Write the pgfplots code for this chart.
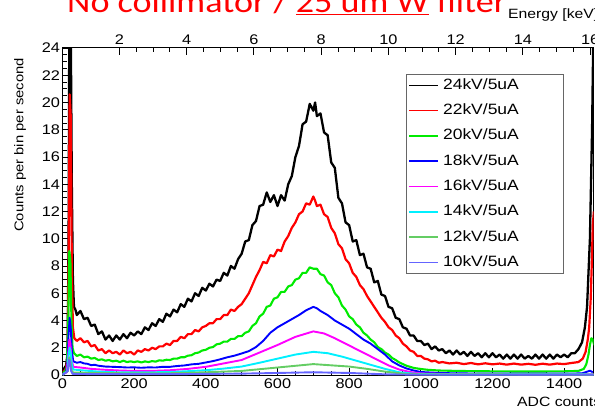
\documentclass[border=0pt]{standalone}
\usepackage{pgfplots}
\pgfplotsset{compat=1.18}
\usepackage{fontspec}
\setmainfont[FakeStretch=1.17]{Liberation Sans}
\newfontfamily\titlefont[FakeStretch=1.15]{Carlito}
\definecolor{cblack}{RGB}{0,0,0}
\definecolor{cred}{RGB}{255,0,0}
\definecolor{cgreen}{RGB}{0,235,0}
\definecolor{cblue}{RGB}{0,0,255}
\definecolor{cmag}{RGB}{255,0,255}
\definecolor{ccyan}{RGB}{0,240,255}
\definecolor{clgreen}{RGB}{100,205,100}
\definecolor{clblue}{RGB}{100,100,255}
\newcommand{\legtxt}[1]{\makebox[116bp][l]{#1}}
\begin{document}
\begin{tikzpicture}
\begin{axis}[
  at={(0,0)}, anchor=south west,
  width=531bp, height=327bp, scale only axis,
  xmin=0, xmax=1482, ymin=0, ymax=24,
  xtick={0,200,...,1400}, ytick={0,2,...,24},
  minor x tick num=3, minor y tick num=3,
  xtick pos=bottom, ytick pos=left,
  tick align=inside,
  major tick length=7bp, minor tick length=4bp,
  tick style={black, line width=0.8bp},
  axis line style={line width=1bp},
  ticklabel style={font=\fontsize{14}{16}\selectfont},
  yticklabel style={xshift=1bp},
  /pgf/number format/assume math mode=true,
  /pgf/number format/1000 sep={},
  legend style={at={(0.647,0.9205)}, anchor=north west, draw=black!60, line width=0.8bp,
    inner xsep=2bp, inner ysep=2bp, font=\fontsize{15}{17}\selectfont,
    nodes={inner sep=2bp, text height=11bp, text depth=3bp}, row sep=7.3bp, column sep=2bp},
  legend cell align=left,
  legend image code/.code={\draw[#1, line width=1.6bp] (0bp,0bp) -- (29bp,0bp);},
  every axis plot/.append style={line width=1.9bp, line join=round},
]
\addplot[cblack, line width=2.3bp] coordinates {
(0,0.3)(5,0.5)(10,0.7)(14,1.5)(17,10)(19,26)(23,26)(26,14)(29,7)(32,5.0)(36,4.8)
(40,4.4)(50,4.7)(60,4.1)(70,4.2)(80,3.6)(90,3.7)(100,3.0)(110,3.2)(120,2.6)(130,2.9)(140,2.5)(150,2.9)(160,2.6)(170,3.0)(180,2.7)(190,3.1)(200,2.9)(210,3.2)(220,3.0)(230,3.5)(240,3.3)(250,3.8)(260,3.6)(270,4.1)(280,3.9)(290,4.5)(300,4.3)(310,4.8)(320,4.6)(330,5.2)(340,5.0)(350,5.6)(360,5.4)(370,6.0)(380,5.8)(390,6.4)(400,6.2)(410,6.7)(420,6.5)(430,7.0)(440,6.9)(450,7.5)(460,7.3)(470,8.0)(480,7.8)(490,8.5)(500,8.9)(510,9.8)(520,9.9)(530,11.0)(540,11.3)(550,12.4)(560,12.5)(570,13.4)(580,12.7)(590,13.2)(600,12.4)(610,13.2)(620,12.8)(630,14.0)(640,14.6)(650,16.0)(660,16.8)(670,18.4)(680,18.6)(690,19.9)(700,19.4)(705,20.0)(710,19.0)(720,19.2)(730,17.8)(740,17.6)(750,15.6)(760,15.2)(770,13.0)(780,12.6)(790,11.2)(800,11.0)(810,9.8)(820,9.9)(830,8.8)(840,8.9)(850,7.9)(860,7.8)(870,6.8)(880,6.9)(890,5.9)(900,5.8)(910,5.0)(920,4.9)(930,4.2)(940,4.1)(950,3.5)(960,3.4)(970,2.9)(980,2.9)(990,2.5)(1000,2.5)(1010,2.2)(1020,2.3)(1030,1.9)(1040,2.1)(1050,1.8)(1060,1.9)(1070,1.6)(1080,1.8)(1090,1.5)(1100,1.8)(1110,1.5)(1120,1.7)(1130,1.4)(1140,1.7)(1150,1.4)(1160,1.6)(1170,1.3)(1180,1.6)(1190,1.3)(1200,1.6)(1210,1.3)(1220,1.5)(1230,1.2)(1240,1.5)(1250,1.2)(1260,1.5)(1270,1.2)(1280,1.5)(1290,1.2)(1300,1.4)(1310,1.2)(1320,1.5)(1330,1.2)(1340,1.5)(1350,1.2)(1360,1.5)(1370,1.2)(1380,1.5)(1390,1.3)(1400,1.5)(1410,1.3)(1420,1.6)(1430,1.6)(1440,1.9)(1450,2.4)(1458,3.5)(1464,5)(1468,7.5)(1472,10)(1475,14)(1478,18)(1481,24)(1484,30)
};
\addlegendentry{\legtxt{24kV/5uA}}
\addplot[cred, line width=2.2bp] coordinates {
(0,0.2)(5,0.3)(10,0.5)(14,1.2)(17,8)(20,20.6)(23,19)(26,8)(29,3.5)(33,2.7)(40,2.5)(50,2.7)(60,2.4)(70,2.5)(80,2.1)(90,2.2)(100,1.8)(110,1.9)(120,1.6)(130,1.8)(140,1.6)(150,1.7)(160,1.5)(170,1.8)(180,1.6)(190,1.7)(200,1.5)(210,1.8)(220,1.7)(230,1.9)(240,1.8)(250,2.0)(260,1.9)(270,2.1)(280,2.1)(290,2.3)(300,2.2)(310,2.5)(320,2.5)(330,2.8)(340,2.7)(350,3.0)(360,3.0)(370,3.3)(380,3.2)(390,3.5)(400,3.6)(410,3.8)(420,3.8)(430,4.1)(440,4.1)(450,4.4)(460,4.4)(470,4.8)(480,4.7)(490,5.0)(500,5.2)(510,5.6)(520,6.0)(530,6.6)(540,7.2)(550,7.7)(560,8.3)(570,8.2)(580,8.8)(590,8.7)(600,9.2)(610,9.1)(620,9.8)(630,10.2)(640,10.8)(650,11.2)(660,11.8)(670,12.0)(680,12.6)(690,12.5)(700,13.1)(705,12.8)(710,12.4)(720,12.5)(730,11.8)(740,11.6)(750,10.8)(760,10.4)(770,9.6)(780,9.3)(790,8.5)(800,8.2)(810,7.5)(820,7.2)(830,6.6)(840,6.3)(850,5.8)(860,5.4)(870,5.0)(880,4.6)(890,4.2)(900,3.9)(910,3.5)(920,3.3)(930,2.9)(940,2.7)(950,2.3)(960,2.1)(970,1.8)(980,1.7)(990,1.4)(1000,1.4)(1010,1.2)(1020,1.15)(1030,1.0)(1040,1.05)(1050,0.9)(1060,0.95)(1080,0.85)(1100,0.9)(1120,0.8)(1140,0.88)(1160,0.78)(1180,0.86)(1200,0.78)(1220,0.84)(1240,0.76)(1260,0.84)(1280,0.76)(1300,0.82)(1320,0.75)(1340,0.83)(1360,0.76)(1380,0.84)(1400,0.8)(1420,0.88)(1440,0.95)(1452,1.2)(1460,1.7)(1466,2.6)(1470,3.5)(1474,5.5)(1477,8)(1480,11)(1483,12)
};
\addlegendentry{\legtxt{22kV/5uA}}
\addplot[cgreen, line width=2.1bp] coordinates {
(0,0.1)(8,0.3)(12,0.6)(16,4)(19,9.1)(22,8.5)(25,4)(28,2)(32,1.6)(40,1.4)(50,1.5)(60,1.3)(70,1.35)(80,1.2)(90,1.25)(100,1.1)(110,1.15)(120,1.05)(130,1.1)(140,1.0)(150,1.05)(160,0.95)(170,1.05)(180,0.95)(190,1.0)(200,0.95)(210,1.0)(220,0.92)(230,1.0)(240,0.95)(250,1.02)(260,0.98)(270,1.08)(280,1.05)(290,1.12)(300,1.1)(310,1.2)(320,1.2)(330,1.3)(340,1.3)(350,1.42)(360,1.45)(370,1.6)(380,1.65)(390,1.8)(400,1.85)(410,2.0)(420,2.05)(430,2.25)(440,2.3)(450,2.45)(460,2.45)(470,2.65)(480,2.65)(490,2.85)(500,2.85)(510,3.1)(520,3.2)(530,3.6)(540,3.8)(550,4.3)(560,4.5)(570,5.0)(580,5.1)(590,5.6)(600,5.7)(610,6.1)(620,6.1)(630,6.5)(640,6.6)(650,7.0)(660,7.1)(670,7.5)(680,7.5)(690,7.9)(700,7.8)(710,7.8)(720,7.4)(730,7.3)(740,6.8)(750,6.6)(760,6.0)(770,5.7)(780,5.1)(790,4.8)(800,4.3)(810,4.1)(820,3.7)(830,3.5)(840,3.1)(850,2.9)(860,2.6)(870,2.4)(880,2.05)(890,1.9)(900,1.65)(910,1.5)(920,1.25)(930,1.1)(940,0.92)(950,0.8)(960,0.68)(970,0.6)(980,0.52)(990,0.48)(1000,0.44)(1020,0.38)(1050,0.33)(1100,0.3)(1150,0.28)(1200,0.27)(1250,0.26)(1300,0.26)(1350,0.26)(1400,0.27)(1440,0.3)(1455,0.45)(1462,0.8)(1468,1.5)(1472,2.2)(1476,2.7)(1480,2.6)(1484,2.2)
};
\addlegendentry{\legtxt{20kV/5uA}}
\addplot[cblue] coordinates {
(0,0.05)(10,0.2)(14,1)(17,3)(20,4.2)(23,3.5)(26,1.8)(30,1.0)(40,0.9)(50,0.95)(60,0.85)(70,0.82)(80,0.72)(90,0.75)(100,0.68)(120,0.62)(140,0.6)(160,0.58)(180,0.55)(200,0.56)(220,0.53)(240,0.56)(260,0.55)(280,0.6)(300,0.6)(320,0.66)(340,0.7)(360,0.78)(380,0.82)(400,0.92)(420,1.02)(440,1.15)(460,1.3)(480,1.42)(500,1.58)(520,1.75)(540,2.05)(560,2.5)(580,3.1)(600,3.5)(620,3.8)(640,4.1)(660,4.4)(680,4.75)(700,5.0)(710,4.9)(720,4.7)(740,4.4)(760,4.0)(780,3.7)(800,3.4)(820,3.0)(840,2.6)(860,2.3)(880,1.9)(900,1.5)(920,1.0)(940,0.7)(960,0.48)(980,0.33)(1000,0.22)(1050,0.15)(1100,0.12)(1200,0.1)(1300,0.1)(1400,0.1)(1450,0.12)(1465,0.25)(1472,0.32)(1480,0.2)
};
\addlegendentry{\legtxt{18kV/5uA}}
\addplot[cmag] coordinates {
(0,0.05)(12,0.2)(16,1.5)(19,2.6)(22,2.3)(25,1.2)(30,0.6)(50,0.55)(80,0.45)(120,0.38)(160,0.33)(200,0.3)(250,0.3)(300,0.35)(350,0.45)(400,0.6)(450,0.85)(500,1.1)(550,1.65)(600,2.2)(650,2.8)(700,3.2)(730,3.05)(760,2.7)(790,2.3)(820,1.9)(850,1.5)(880,1.1)(910,0.7)(940,0.4)(970,0.22)(1000,0.12)(1100,0.06)(1300,0.05)(1482,0.05)
};
\addlegendentry{\legtxt{16kV/5uA}}
\addplot[ccyan] coordinates {
(0,0.03)(14,0.3)(17,1.5)(20,2.0)(23,1.6)(26,0.8)(30,0.4)(60,0.33)(100,0.25)(150,0.2)(200,0.2)(250,0.2)(300,0.22)(350,0.28)(400,0.35)(450,0.47)(500,0.62)(550,0.9)(600,1.2)(650,1.5)(700,1.7)(740,1.6)(780,1.35)(820,1.05)(860,0.75)(900,0.45)(940,0.2)(980,0.1)(1050,0.05)(1482,0.04)
};
\addlegendentry{\legtxt{14kV/5uA}}
\addplot[clgreen] coordinates {
(0,0.02)(15,0.3)(19,1.3)(22,1.0)(26,0.3)(30,0.18)(100,0.15)(200,0.12)(300,0.13)(400,0.2)(500,0.3)(600,0.55)(700,0.8)(800,0.62)(850,0.45)(900,0.25)(950,0.1)(1000,0.05)(1482,0.03)
};
\addlegendentry{\legtxt{12kV/5uA}}
\addplot[clblue] coordinates {
(0,0.0)(15,0.3)(18,1.1)(21,1.0)(24,0.3)(28,0.08)(100,0.06)(300,0.06)(500,0.1)(600,0.15)(700,0.2)(800,0.15)(900,0.05)(1000,0.02)(1482,0.02)
};
\addlegendentry{\legtxt{10kV/5uA}}
\end{axis}
\begin{axis}[
  at={(0,0)}, anchor=south west,
  width=531bp, height=327bp, scale only axis,
  xmin=0.31, xmax=16.1, ymin=0, ymax=1,
  axis x line*=top, hide y axis,
  xtick={2,4,...,16}, minor x tick num=3,
  tick align=inside,
  major tick length=7bp, minor tick length=4bp,
  tick style={black, line width=0.8bp},
  axis line style={line width=1bp},
  ticklabel style={font=\fontsize{14}{16}\selectfont},
  /pgf/number format/assume math mode=true,
]
\end{axis}
\node[rotate=90, font=\fontsize{12.7}{15}\selectfont] at (-42.5bp,230bp) {Counts per bin per second};
\node[anchor=base west, inner sep=0pt, font=\fontsize{13.5}{15}\selectfont] at (445.5bp,356bp) {Energy [keV]};
\node[anchor=base west, inner sep=0pt, font=\fontsize{13.5}{15}\selectfont] at (454.5bp,-31bp) {ADC counts};
\node[anchor=base west, inner sep=0pt, text=red, font=\titlefont\fontsize{31.5}{34}\selectfont] at (4.5bp,362bp) {No collimator / \underline{25 um W} filter};
\pgfresetboundingbox
\path[use as bounding box] (-62.5bp,-36bp) rectangle (532.5bp,375bp);
\end{tikzpicture}
\end{document}
